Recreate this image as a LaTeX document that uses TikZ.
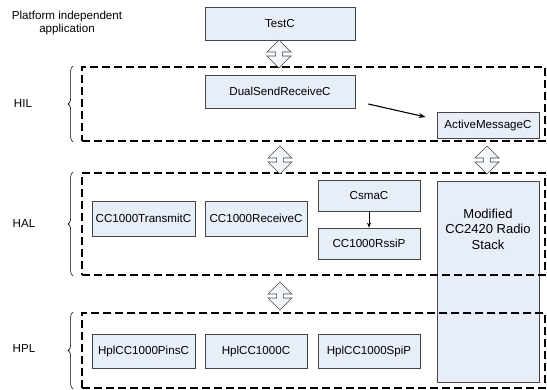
\documentclass[tikz,border=0pt]{standalone}
\usepackage{fontspec}
\setmainfont{Liberation Sans}
\usetikzlibrary{shapes.arrows,arrows.meta,decorations.pathreplacing}
\definecolor{boxfill}{RGB}{232,238,248}
\definecolor{boxline}{RGB}{70,70,70}

\begin{document}
\begin{tikzpicture}[x=1pt, y=-1pt,
    comp/.style={draw=boxline, fill=boxfill, line width=0.7pt, inner sep=0pt,
      font=\fontsize{11.6}{13}\selectfont},
    layer/.style={draw, dash pattern=on 8pt off 4pt, line width=1.8pt, inner sep=0pt},
    updown/.style={shape=double arrow, shape border rotate=90, draw=boxline,
      line width=0.6pt, left color=white, right color=boxfill,
      minimum height=28pt, minimum width=24pt, inner sep=2.6pt,
      double arrow head extend=7.5pt},
    lbl/.style={font=\fontsize{11.6}{13}\selectfont, align=center}]

    \useasboundingbox (0,0) rectangle (547,389);

    % components
    \node[comp, minimum width=150pt, minimum height=33pt] (testc) at (280,23.5) {TestC};
    \node[comp, minimum width=150pt, minimum height=33pt] (dualsend) at (280,91.5) {DualSendReceiveC};
    \node[comp, minimum width=102pt, minimum height=26pt] (activemsg) at (488,125) {ActiveMessageC};

    \node[comp, minimum width=103pt, minimum height=35pt] (transmit) at (143.5,218.5) {CC1000TransmitC};
    \node[comp, minimum width=102pt, minimum height=35pt] (receive) at (256,218.5) {CC1000ReceiveC};
    \node[comp, minimum width=102pt, minimum height=31pt] (csmac) at (369,195.5) {CsmaC};
    \node[comp, minimum width=102pt, minimum height=31pt] (rssip) at (369,243.5) {CC1000RssiP};

    \node[comp, minimum width=103pt, minimum height=34pt] (pins) at (143.5,351) {HplCC1000PinsC};
    \node[comp, minimum width=102pt, minimum height=34pt] (hplc) at (256,351) {HplCC1000C};
    \node[comp, minimum width=102pt, minimum height=34pt] (spip) at (369,351) {HplCC1000SpiP};

    \node[comp, minimum width=102pt, minimum height=201pt] (radio) at (488,281.5) {};
    \node[align=center, font=\fontsize{13}{15.5}\selectfont] (radiotxt) at (488,229)
      {Modified\\CC2420 Radio\\Stack};

    % layers
    \node[layer, minimum width=463pt, minimum height=74pt] (hil) at (313.5,104) {};
    \node[layer, minimum width=463pt, minimum height=102pt] (hal) at (313.5,224) {};
    \node[layer, minimum width=463pt, minimum height=75pt] (hpl) at (313.5,350.5) {};

    \node[lbl] (platform) at (67,23) {Platform independent\\application};
    \node[lbl] (hillbl) at (23,104) {HIL};
    \node[lbl] (hallbl) at (24,224) {HAL};
    \node[lbl] (hpllbl) at (24,349) {HPL};

    \foreach \l in {hil,hal,hpl}
      \draw[decorate, decoration={brace, amplitude=5pt}, line width=0.6pt]
        ([xshift=-8pt]\l.south west) -- ([xshift=-8pt]\l.north west);

    % connectors
    \node[updown] (da1) at (279,54) {};
    \node[updown] (da2) at (280,160) {};
    \node[updown] (da3) at (487,160) {};
    \node[updown] (da4) at (280,296) {};

    \draw[-{Stealth[length=7pt, width=5pt]}, line width=1.1pt]
      ([xshift=13pt, yshift=-12.5pt]dualsend.east) -- ([xshift=-11pt, yshift=8pt]activemsg.west);
    \draw[-{Stealth[length=5pt, width=4pt]}, line width=0.9pt] (csmac) -- (rssip);

  \end{tikzpicture}
\end{document}
